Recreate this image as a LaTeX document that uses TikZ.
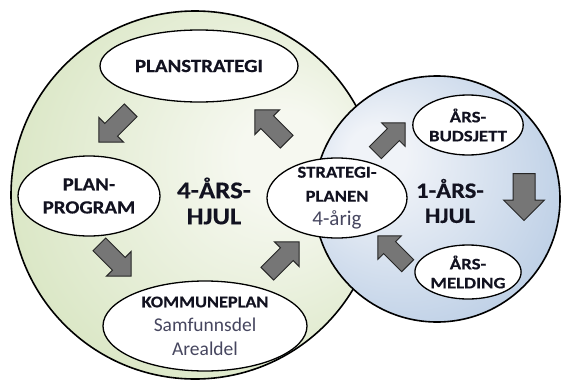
\documentclass[tikz,border=0pt]{standalone}
\usepackage{fontspec}
\setmainfont{Carlito}[BoldFeatures={FakeStretch=1.12, FakeBold=0.4}]
\newfontfamily\widebold{Carlito}[FakeStretch=1.18, BoldFeatures={FakeBold=0.4}]
\usetikzlibrary{shapes.geometric,shapes.arrows}

\definecolor{wheelgreen}{RGB}{198,218,166}
\definecolor{greenlight}{RGB}{246,248,240}
\definecolor{wheelblue}{RGB}{156,184,218}
\definecolor{bluelight}{RGB}{240,243,248}
\definecolor{arrowgray}{RGB}{118,118,118}
\definecolor{darktext}{RGB}{18,18,32}
\definecolor{softtext}{RGB}{70,70,95}

\pgfdeclareradialshading{greenwheel}{\pgfpoint{14bp}{6bp}}{color(0bp)=(greenlight); color(6bp)=(greenlight); color(50bp)=(wheelgreen)}
\pgfdeclareradialshading{bluewheel}{\pgfpoint{-14bp}{10bp}}{color(0bp)=(bluelight); color(6bp)=(bluelight); color(50bp)=(wheelblue)}

% the thin second lines in the plans
\newcommand{\subline}[1]{{\mdseries\fontsize{19.5}{23}\selectfont\color{softtext}#1}}

\tikzset{
    wheel/.style={circle, draw=black, line width=1.6pt, inner sep=0pt},
    plan/.style={ellipse, draw=black, line width=1.3pt, fill=white, inner sep=0pt,
        align=center, text=darktext, font=\bfseries\fontsize{18.6}{23}\selectfont},
    wheeltext/.style={align=center, text=darktext, font=\bfseries\fontsize{22}{25}\selectfont},
    blockarrow/.style={single arrow, draw=black!85, fill=arrowgray, line width=1pt,
        inner xsep=0pt, inner ysep=8.5pt, anchor=tail, single arrow head extend=8.5pt,
        minimum height=45pt},
}

\begin{document}
\begin{tikzpicture}[x=1pt, y=-1pt]
    \useasboundingbox (0,0) rectangle (564,380);

    % the two wheels
    \node[wheel, minimum size=368pt, shading=greenwheel] (wheel4) at (195,195) {};
    \node[wheel, minimum size=246pt, shading=bluewheel] (wheel1) at (437,199) {};

    % the wheel names
    \node[wheeltext, font=\bfseries\fontsize{24}{26}\selectfont] (name4) at (214,201) {4-ÅRS-\\HJUL};
    \node[wheeltext] (name1) at (450,201) {1-ÅRS-\\HJUL};

    % the plans
    \node[plan, minimum width=198pt, minimum height=72pt] (planstrategi) at (199,66) {PLANSTRATEGI};
    \node[plan, minimum width=142pt, minimum height=80pt] (planprogram) at (89,196) {PLAN-\\PROGRAM};
    \node[plan, minimum width=204pt, minimum height=90pt, inner ysep=-6pt,
        font=\bfseries\fontsize{16.3}{24}\selectfont] (kommuneplan) at (205,326)
        {KOMMUNEPLAN\\\subline{Samfunnsdel}\\\subline{Arealdel}};
    \node[plan, minimum width=140pt, minimum height=80pt, inner ysep=-9pt,
        font=\bfseries\fontsize{16.7}{24}\selectfont] (strategiplanen) at (337,198)
        {STRATEGI-\\PLANEN\\\subline{\fontsize{21}{23}\selectfont 4-årig}};
    \node[plan, minimum width=104pt, minimum height=60pt, inner ysep=-3pt,
        font=\widebold\bfseries\fontsize{16}{19}\selectfont] (budsjett) at (468,125) {ÅRS-\\BUDSJETT};
    \node[plan, minimum width=100pt, minimum height=54pt, inner ysep=-3pt,
        font=\widebold\bfseries\fontsize{16}{19}\selectfont] (melding) at (468,272) {ÅRS-\\MELDING};

    % the arrows of the 4-year wheel
    \node[blockarrow, rotate=225] (a1) at (131,110) {};
    \node[blockarrow, rotate=-45] (a2) at (99,244) {};
    \node[blockarrow, rotate=45] (a3) at (267,274) {};
    \node[blockarrow, rotate=135] (a4) at (287,142) {};

    % the arrows of the 1-year wheel
    \node[blockarrow, rotate=45, minimum height=42pt, inner ysep=8pt, single arrow head extend=8pt] (b1) at (375,153) {};
    \node[blockarrow, rotate=-90, minimum height=47pt, inner ysep=10.5pt,
        single arrow head extend=9.5pt] (b2) at (524,173) {};
    \node[blockarrow, rotate=135, minimum height=42pt, inner ysep=8pt, single arrow head extend=8pt] (b3) at (408,266) {};

\end{tikzpicture}
\end{document}
